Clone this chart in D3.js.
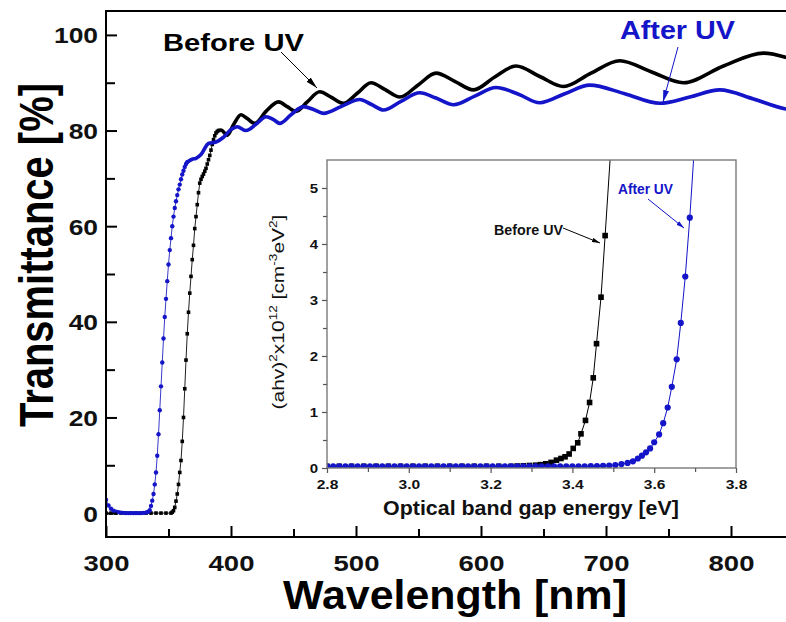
<!DOCTYPE html>
<html>
<head>
<meta charset="utf-8">
<script src="https://cdn.jsdelivr.net/npm/d3@7"></script>
<style>
body { margin: 0; background: #fff; }
svg { display: block; }
</style>
</head>
<body>
<div id="chart"></div>
<script>
// main panel: wavelength [nm] vs transmittance [%]
// steep edge part (drawn with markers), then the smooth fringe part (thick line)
const beforeEdgeNm = [300,304,308,312,316,320,324,328,332,336,340,344,348,352,353,354,355,356,357,358,359,360,361,362,363,364,365,366,367,368,369,370,371,372,373,374,375,376,377,378,379,380,381,382,383,384,385,386,387,388,389,390];
const beforeEdgeT = [0,0,0,0,0,0,0,0,0,0,0,0,0,0,0.2,0.5,1.2,2.5,4,6,8.5,11,15,20,26,32,37.5,42,46,49.5,53,56,59.5,62,64.5,67,69,69.8,70.4,70.9,71.5,72.1,73,73.9,74.8,75.9,77.1,78.1,78.9,79.5,79.8,80];
const beforeTailNm = [390,392,397,402,408,413,419,428,438,445,452,461,471,480,490,501,512,523,535,550,564,579,594,611,628,647,666,688,711,736,762,794,826,850];
const beforeTailT = [80,80.1,79,81.2,83.3,82.5,81.5,84,86,85,84,86,88.1,87,85.7,87.8,90,88.6,87,89.6,92,90.3,88.5,91.2,93.5,91.3,89.2,92,94.6,92.3,90,93.5,96.2,94.8];

const afterEdgeNm = [300,302,304,306,308,310,312,314,316,318,320,322,324,326,328,330,332,333,334,335,336,337,338,339,340,341,342,343,344,345,346,347,348,349,350,351,352,353,354,355,356,357,358,359,360,361,362,363,364,365];
const afterEdgeT = [2.8,1.6,0.9,0.5,0.3,0.2,0.1,0.05,0,0,0,0,0,0,0,0.05,0.1,0.2,0.3,0.6,1.5,2.6,4,6,8.5,12,16.5,21.5,26.5,31.5,36.5,41,44.8,48.5,52,55,57.5,60,62,63.8,65.2,66.5,67.7,68.7,69.8,70.8,71.6,72.4,73,73.4];
const afterTailNm = [365,369,372,376,382,388,394,400,405,412,420,428,434,439,448,458,466,474,488,503,512,522,536,551,564,578,595,612,630,647,667,687,715,743,767,791,818,844,850];
const afterTailT = [73.4,74,74.2,75,77.3,77.6,78.6,80.2,80.8,80,81.3,82.9,82.3,81.5,83.3,85,84.4,83.6,85,86.5,85.5,84.3,86.1,87.9,86.8,85.4,87.2,89,87.6,85.8,87.7,89.5,87.7,85.7,87,88.5,86.6,84.5,84.3];

// inset: photon energy [eV] vs (ahv)^2 x10^12
const insetBeforeE = [2.80,2.83,2.86,2.89,2.92,2.95,2.98,3.01,3.04,3.07,3.10,3.13,3.16,3.19,3.22,3.25,3.265,3.28,3.295,3.31,3.322,3.335,3.348,3.361,3.372,3.382,3.392,3.402,3.413,3.421,3.432,3.442,3.451,3.459,3.470,3.480,3.493];
const insetBeforeV = [0.03,0.03,0.03,0.03,0.03,0.03,0.03,0.03,0.03,0.03,0.03,0.03,0.03,0.03,0.03,0.03,0.035,0.04,0.045,0.05,0.06,0.075,0.1,0.14,0.17,0.2,0.25,0.35,0.45,0.61,0.85,1.17,1.61,2.22,3.05,4.15,5.6];
const insetAfterE = [2.800,2.815,2.830,2.845,2.860,2.875,2.890,2.905,2.920,2.935,2.950,2.965,2.980,2.995,3.010,3.025,3.040,3.055,3.070,3.085,3.100,3.115,3.130,3.145,3.160,3.175,3.190,3.205,3.220,3.235,3.250,3.265,3.280,3.295,3.310,3.325,3.340,3.355,3.370,3.385,3.400,3.415,3.430,3.445,3.460,3.475,3.490,3.505,3.520,3.535,3.548,3.560,3.570,3.580,3.590,3.600,3.612,3.622,3.633,3.643,3.655,3.665,3.676,3.687,3.698];
const insetAfterV = [0.03,0.03,0.03,0.03,0.03,0.03,0.03,0.03,0.03,0.03,0.03,0.03,0.03,0.03,0.03,0.03,0.03,0.03,0.03,0.03,0.03,0.03,0.03,0.03,0.03,0.03,0.03,0.03,0.03,0.03,0.03,0.03,0.03,0.03,0.03,0.03,0.03,0.03,0.03,0.03,0.03,0.03,0.03,0.032,0.035,0.04,0.045,0.05,0.07,0.09,0.12,0.17,0.22,0.28,0.35,0.46,0.6,0.8,1.08,1.45,1.94,2.59,3.42,4.47,5.7];

// ticks
const mainXTicks = [300,400,500,600,700,800];
const mainXMinor = [350,450,550,650,750,850];
const mainYTicks = [0,20,40,60,80,100];
const mainYMinor = [10,30,50,70,90];
const insetXTicks = [2.8,3.0,3.2,3.4,3.6,3.8];
const insetXMinor = [2.9,3.1,3.3,3.5,3.7];
const insetYTicks = [0,1,2,3,4,5];
const insetYMinor = [0.5,1.5,2.5,3.5,4.5];

const W = 786, H = 622;
const font = 'Arial, "Liberation Sans", Helvetica, sans-serif';
const blue = '#1414c8';

const svg = d3.select('#chart').append('svg')
    .attr('width', W)
    .attr('height', H);

const defs = svg.append('defs');

const x = d3.scaleLinear().domain([300, 850]).range([106, 793.5]);
const y = d3.scaleLinear().domain([-5, 105]).range([537, 11]);
const xi = d3.scaleLinear().domain([2.8, 3.8]).range([327, 736]);
const yi = d3.scaleLinear().domain([0, 5.5]).range([468, 160]);

defs.append('clipPath').attr('id', 'clipMain')
    .append('rect').attr('x', 106).attr('y', 11).attr('width', 690).attr('height', 526);
defs.append('clipPath').attr('id', 'clipInset')
    .append('rect').attr('x', 327).attr('y', 160).attr('width', 409).attr('height', 308);

function arrowHead(id, color, len, wid) {
    defs.append('marker')
        .attr('id', id)
        .attr('viewBox', `0 0 ${len} ${wid}`)
        .attr('refX', len).attr('refY', wid / 2)
        .attr('markerUnits', 'userSpaceOnUse')
        .attr('markerWidth', len).attr('markerHeight', wid)
        .attr('orient', 'auto')
        .append('path')
        .attr('d', `M0,0L${len},${wid / 2}L0,${wid}Z`)
        .attr('fill', color);
}
arrowHead('headBlackBig', '#000', 12, 6);
arrowHead('headBlueBig', blue, 12, 6);
arrowHead('headBlackSmall', '#000', 8, 4.5);
arrowHead('headBlueSmall', blue, 8, 4.5);

const zip = (a, b) => a.map((v, i) => [v, b[i]]);

// ---------- main panel ----------
const plot = svg.append('g').attr('clip-path', 'url(#clipMain)');
const lineMain = d3.line().x(d => x(d[0])).y(d => y(d[1]));
const smoothMain = d3.line().x(d => x(d[0])).y(d => y(d[1])).curve(d3.curveMonotoneX);

function drawMain(edgeNm, edgeT, tailNm, tailT, color, thinColor, shape) {
    const edge = zip(edgeNm, edgeT);
    const tail = zip(tailNm, tailT);
    plot.append('path').datum(edge)
        .attr('d', lineMain).attr('fill', 'none')
        .attr('stroke', thinColor).attr('stroke-width', 1);
    plot.append('path').datum(tail)
        .attr('d', smoothMain).attr('fill', 'none')
        .attr('stroke', color).attr('stroke-width', 3.6)
        .attr('stroke-linejoin', 'round').attr('stroke-linecap', 'round');
    if (shape === 'square') {
        plot.selectAll(null).data(edge).enter().append('rect')
            .attr('x', d => x(d[0]) - 1.8).attr('y', d => y(d[1]) - 1.8)
            .attr('width', 3.6).attr('height', 3.6).attr('fill', color);
    } else {
        plot.selectAll(null).data(edge).enter().append('circle')
            .attr('cx', d => x(d[0])).attr('cy', d => y(d[1]))
            .attr('r', 2.2).attr('fill', color);
    }
}
drawMain(beforeEdgeNm, beforeEdgeT, beforeTailNm, beforeTailT, '#000', '#222', 'square');
drawMain(afterEdgeNm, afterEdgeT, afterTailNm, afterTailT, blue, '#3a3ac8', 'circle');

// frame
svg.append('rect')
    .attr('x', 106).attr('y', 11)
    .attr('width', x(850) - 106).attr('height', 526)
    .attr('fill', 'none').attr('stroke', '#000').attr('stroke-width', 2);

function styleTicks(g, color, width) {
    g.select('.domain').remove();
    g.selectAll('line').attr('stroke', color).attr('stroke-width', width);
}

const gx = svg.append('g').attr('transform', `translate(0,${y(-5)})`)
    .call(d3.axisBottom(x).tickValues(mainXTicks).tickSize(-11).tickSizeOuter(0).tickFormat(d3.format('d')));
styleTicks(gx, '#000', 2);
gx.selectAll('text')
    .attr('x', 0).attr('y', 34).attr('dy', null)
    .attr('font-family', font).attr('font-size', 22).attr('font-weight', 'bold').attr('fill', '#111')
    .attr('transform', 'scale(1.25,1)');

const gxm = svg.append('g').attr('transform', `translate(0,${y(-5)})`)
    .call(d3.axisBottom(x).tickValues(mainXMinor).tickSize(-8).tickSizeOuter(0).tickFormat(''));
styleTicks(gxm, '#000', 2);

const gy = svg.append('g').attr('transform', 'translate(106,0)')
    .call(d3.axisLeft(y).tickValues(mainYTicks).tickSize(-11).tickSizeOuter(0).tickFormat(d3.format('d')));
styleTicks(gy, '#000', 2);
gy.selectAll('text')
    .attr('x', -8 / 1.2).attr('dy', '0.36em')
    .attr('font-family', font).attr('font-size', 22).attr('font-weight', 'bold').attr('fill', '#111')
    .attr('transform', 'scale(1.2,1)');

const gym = svg.append('g').attr('transform', 'translate(106,0)')
    .call(d3.axisLeft(y).tickValues(mainYMinor).tickSize(-9).tickSizeOuter(0).tickFormat(''));
styleTicks(gym, '#000', 2);

// ---------- inset ----------
svg.append('rect')
    .attr('x', 327).attr('y', 160).attr('width', 409).attr('height', 308)
    .attr('fill', '#fff');

const inset = svg.append('g').attr('clip-path', 'url(#clipInset)');
const lineInset = d3.line().x(d => xi(d[0])).y(d => yi(d[1]));

const ib = zip(insetBeforeE, insetBeforeV);
const ia = zip(insetAfterE, insetAfterV);
inset.append('path').datum(ib).attr('d', lineInset)
    .attr('fill', 'none').attr('stroke', '#000').attr('stroke-width', 1);
inset.selectAll(null).data(ib).enter().append('rect')
    .attr('x', d => xi(d[0]) - 2.8).attr('y', d => yi(d[1]) - 2.8)
    .attr('width', 5.6).attr('height', 5.6).attr('fill', '#000');
inset.append('path').datum(ia).attr('d', lineInset)
    .attr('fill', 'none').attr('stroke', blue).attr('stroke-width', 1);
inset.selectAll(null).data(ia).enter().append('circle')
    .attr('cx', d => xi(d[0])).attr('cy', d => yi(d[1]))
    .attr('r', 3.1).attr('fill', blue);

svg.append('rect')
    .attr('x', 327).attr('y', 160).attr('width', 409).attr('height', 308)
    .attr('fill', 'none').attr('stroke', '#7a7a7a').attr('stroke-width', 1.4);

const gix = svg.append('g').attr('transform', 'translate(0,468)')
    .call(d3.axisBottom(xi).tickValues(insetXTicks).tickSize(5).tickSizeOuter(0).tickFormat(d3.format('.1f')));
styleTicks(gix, '#555', 1.2);
gix.selectAll('text')
    .attr('y', 21).attr('dy', null)
    .attr('font-family', font).attr('font-size', 12).attr('font-weight', 'bold').attr('fill', '#111')
    .attr('transform', 'scale(1.3,1)');
const gixm = svg.append('g').attr('transform', 'translate(0,468)')
    .call(d3.axisBottom(xi).tickValues(insetXMinor).tickSize(4).tickSizeOuter(0).tickFormat(''));
styleTicks(gixm, '#555', 1.2);

const giy = svg.append('g').attr('transform', 'translate(327,0)')
    .call(d3.axisLeft(yi).tickValues(insetYTicks).tickSize(5).tickSizeOuter(0).tickFormat(d3.format('d')));
styleTicks(giy, '#555', 1.2);
giy.selectAll('text')
    .attr('x', -9 / 1.2).attr('dy', '0.36em')
    .attr('font-family', font).attr('font-size', 12.5).attr('font-weight', 'bold').attr('fill', '#111')
    .attr('transform', 'scale(1.2,1)');
const giym = svg.append('g').attr('transform', 'translate(327,0)')
    .call(d3.axisLeft(yi).tickValues(insetYMinor).tickSize(4).tickSizeOuter(0).tickFormat(''));
styleTicks(giym, '#555', 1.2);

// ---------- texts ----------
// text stretched along its direction to the length it has in the picture
function label(str, px, py, size, len, o = {}) {
    const t = svg.append('text')
        .attr('font-family', font).attr('font-size', size)
        .attr('font-weight', o.weight || 'bold')
        .attr('fill', o.color || '#000')
        .attr('text-anchor', o.anchor || 'start')
        .text(str);
    const w = t.node().getComputedTextLength();
    t.attr('transform', `translate(${px},${py}) rotate(${o.rotate || 0}) scale(${len / w},1)`);
    return t;
}

label('Transmittance [%]', 53, 255, 48, 344, {anchor: 'middle', rotate: -90});
label('Wavelength [nm]', 455, 609, 41, 344, {anchor: 'middle'});
label('Before UV', 163, 51, 24, 141);
label('After UV', 620, 39, 25, 115, {color: blue});
label('Before UV', 494, 235, 14, 69, {color: '#111'});
label('After UV', 618, 194, 14, 55, {color: blue});
label('Optical band gap energy [eV]', 531, 515, 19.5, 296, {anchor: 'middle', color: '#111'});

// inset y title with superscripts
const parts = [['(ahv)', 0], ['2', 1], ['x10', 0], ['12', 1], [' [cm', 0], ['-3', 1], ['eV', 0], ['2', 1], [']', 0]];
const yt = svg.append('text')
    .attr('font-family', font).attr('font-size', 17)
    .attr('fill', '#111').attr('text-anchor', 'middle');
parts.forEach(([s, sup], i) => {
    const prev = i > 0 ? parts[i - 1][1] : 0;
    const ts = yt.append('tspan').text(s);
    if (sup) ts.attr('font-size', 11);
    if (sup && !prev) ts.attr('dy', -7);
    else if (!sup && prev) ts.attr('dy', 7);
});
const ytw = yt.node().getComputedTextLength();
yt.attr('transform', `translate(284,312) rotate(-90) scale(${195 / ytw},1)`);

// ---------- arrows ----------
function arrow(x1, y1, x2, y2, color, head) {
    svg.append('line')
        .attr('x1', x1).attr('y1', y1).attr('x2', x2).attr('y2', y2)
        .attr('stroke', color).attr('stroke-width', 1)
        .attr('marker-end', `url(#${head})`);
}
arrow(281, 52, 317, 88, '#000', 'headBlackBig');
arrow(678, 47, 663, 102, blue, 'headBlueBig');
arrow(563, 228, 600, 243, '#000', 'headBlackSmall');
arrow(648, 199, 684, 228, blue, 'headBlueSmall');
</script>
</body>
</html>
